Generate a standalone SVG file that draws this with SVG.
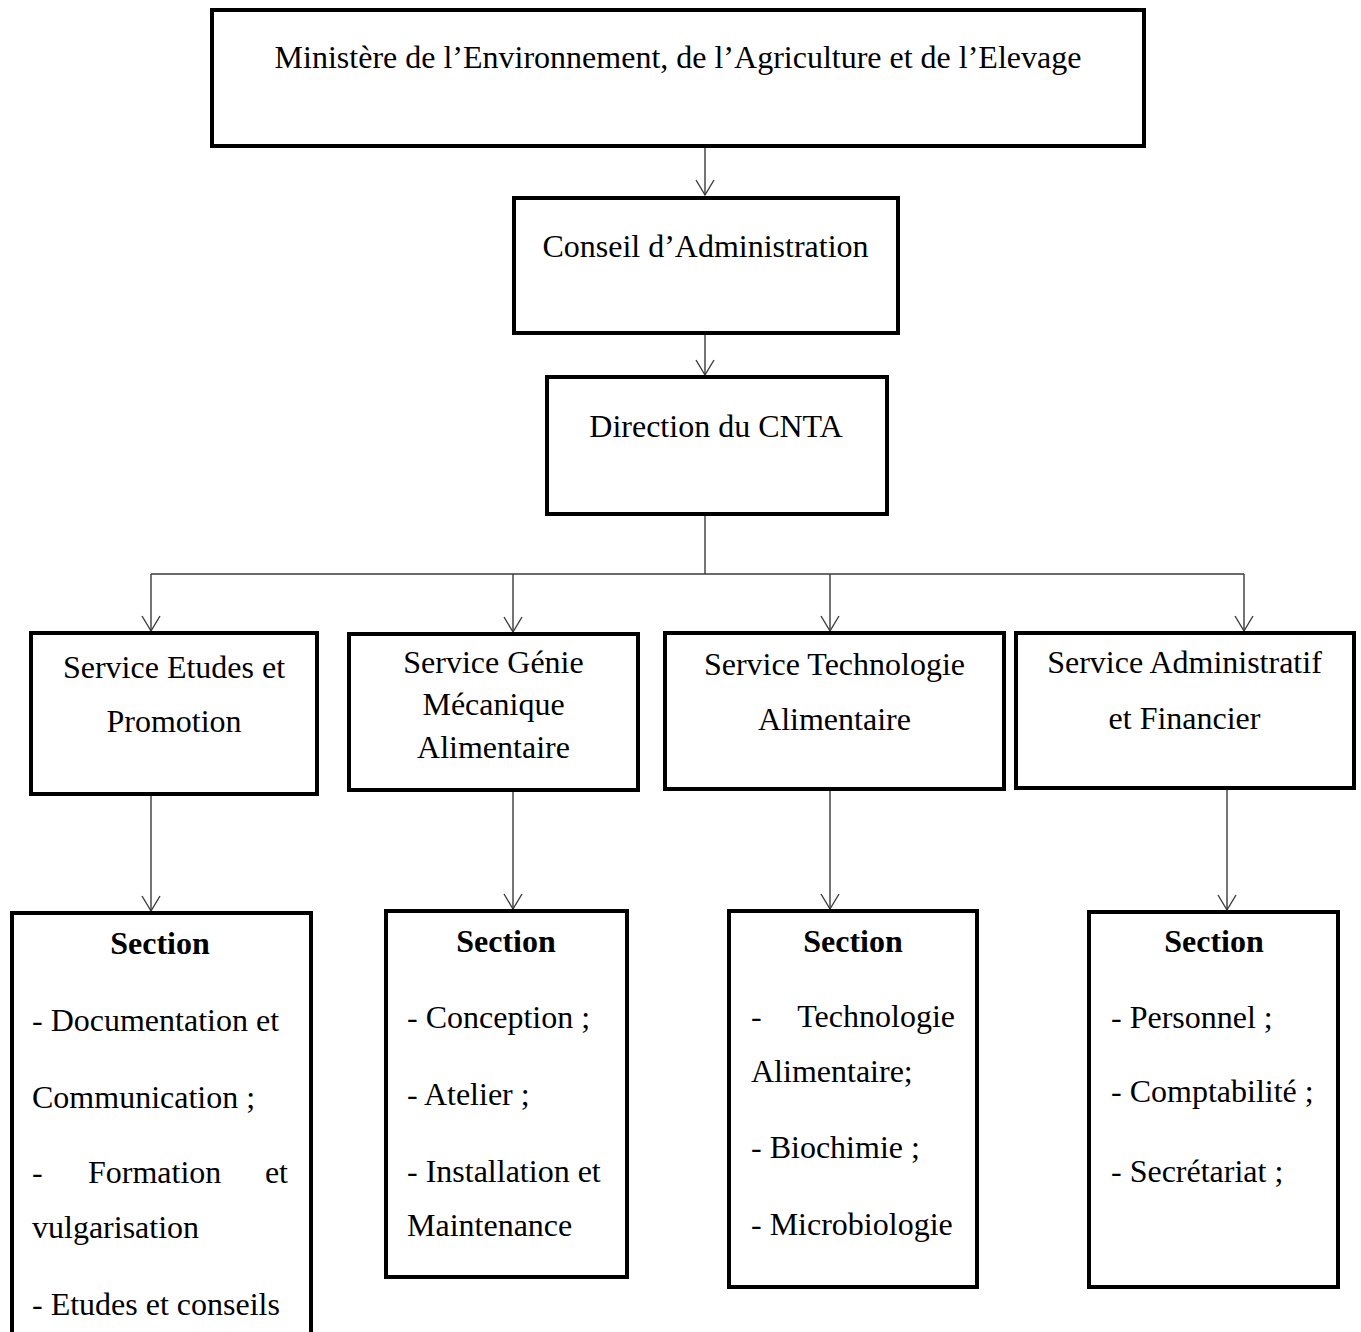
<svg xmlns="http://www.w3.org/2000/svg" width="1361" height="1332" viewBox="0 0 1361 1332">
<defs>
<style>
.box{fill:#fff;stroke:#000;stroke-width:4}
.t{font-family:"Liberation Serif","Times New Roman",serif;font-size:32px;fill:#000}
.c{text-anchor:middle}
.b{font-weight:bold}
.e{text-anchor:end}
.ln{fill:none;stroke:#3a3a3a;stroke-width:1.4}
</style>
<marker id="arr" markerUnits="userSpaceOnUse" markerWidth="34" markerHeight="34" refX="0" refY="0" orient="auto" viewBox="-17 -17 34 34" overflow="visible">
<path d="M-15,-9 L0,0 L-15,9" fill="none" stroke="#3a3a3a" stroke-width="1.4"/>
</marker>
</defs>
<rect width="1361" height="1332" fill="#fff"/>
<g id="connectors">
<line class="ln" x1="705" y1="146" x2="705" y2="195" marker-end="url(#arr)"/>
<line class="ln" x1="705" y1="333" x2="705" y2="375" marker-end="url(#arr)"/>
<line class="ln" x1="705" y1="514" x2="705" y2="574"/>
<line class="ln" x1="151" y1="574" x2="1244" y2="574"/>
<line class="ln" x1="151" y1="574" x2="151" y2="631" marker-end="url(#arr)"/>
<line class="ln" x1="513" y1="574" x2="513" y2="632" marker-end="url(#arr)"/>
<line class="ln" x1="830" y1="574" x2="830" y2="631" marker-end="url(#arr)"/>
<line class="ln" x1="1244" y1="574" x2="1244" y2="631" marker-end="url(#arr)"/>
<line class="ln" x1="151" y1="795" x2="151" y2="911" marker-end="url(#arr)"/>
<line class="ln" x1="513" y1="791" x2="513" y2="909" marker-end="url(#arr)"/>
<line class="ln" x1="830" y1="790" x2="830" y2="909" marker-end="url(#arr)"/>
<line class="ln" x1="1227" y1="789" x2="1227" y2="910" marker-end="url(#arr)"/>
</g>
<g id="ministere">
<rect class="box" x="212" y="10" width="932" height="136"/>
<text class="t c" x="678" y="68">Ministère de l’Environnement, de l’Agriculture et de l’Elevage</text>
</g>
<g id="conseil">
<rect class="box" x="514" y="198" width="384" height="135"/>
<text class="t c" x="705.5" y="257">Conseil d’Administration</text>
</g>
<g id="direction">
<rect class="box" x="547" y="377" width="340" height="137"/>
<text class="t c" x="716" y="437">Direction du CNTA</text>
</g>
<g id="service-etudes">
<rect class="box" x="31" y="633" width="286" height="161"/>
<text class="t c" x="174" y="678">Service Etudes et</text>
<text class="t c" x="174" y="732">Promotion</text>
</g>
<g id="service-genie">
<rect class="box" x="349" y="634" width="289" height="156"/>
<text class="t c" x="493.5" y="673">Service Génie</text>
<text class="t c" x="493.5" y="715">Mécanique</text>
<text class="t c" x="493.5" y="758">Alimentaire</text>
</g>
<g id="service-technologie">
<rect class="box" x="665" y="633" width="339" height="156"/>
<text class="t c" x="834.5" y="675">Service Technologie</text>
<text class="t c" x="834.5" y="730">Alimentaire</text>
</g>
<g id="service-administratif">
<rect class="box" x="1016" y="633" width="338" height="155"/>
<text class="t c" x="1184.5" y="673">Service Administratif</text>
<text class="t c" x="1184.5" y="729">et Financier</text>
</g>
<g id="section-etudes">
<rect class="box" x="12" y="913" width="299" height="440"/>
<text class="t c b" x="160" y="954">Section</text>
<text class="t" x="32" y="1031">- Documentation et</text>
<text class="t" x="32" y="1108">Communication ;</text>
<text class="t" x="32" y="1183">-</text>
<text class="t" x="88" y="1183">Formation</text>
<text class="t e" x="288" y="1183">et</text>
<text class="t" x="32" y="1238">vulgarisation</text>
<text class="t" x="32" y="1315">- Etudes et conseils</text>
</g>
<g id="section-genie">
<rect class="box" x="386" y="911" width="241" height="366"/>
<text class="t c b" x="506" y="952">Section</text>
<text class="t" x="407" y="1028">- Conception ;</text>
<text class="t" x="407" y="1105">- Atelier ;</text>
<text class="t" x="407" y="1182">- Installation et</text>
<text class="t" x="407" y="1236">Maintenance</text>
</g>
<g id="section-technologie">
<rect class="box" x="729" y="911" width="248" height="376"/>
<text class="t c b" x="853" y="952">Section</text>
<text class="t" x="751" y="1027">-</text>
<text class="t e" x="955" y="1027">Technologie</text>
<text class="t" x="751" y="1082">Alimentaire;</text>
<text class="t" x="751" y="1158">- Biochimie ;</text>
<text class="t" x="751" y="1235">- Microbiologie</text>
</g>
<g id="section-administratif">
<rect class="box" x="1089" y="912" width="249" height="375"/>
<text class="t c b" x="1214" y="952">Section</text>
<text class="t" x="1111" y="1028">- Personnel ;</text>
<text class="t" x="1111" y="1102">- Comptabilité ;</text>
<text class="t" x="1111" y="1182">- Secrétariat ;</text>
</g>
</svg>
